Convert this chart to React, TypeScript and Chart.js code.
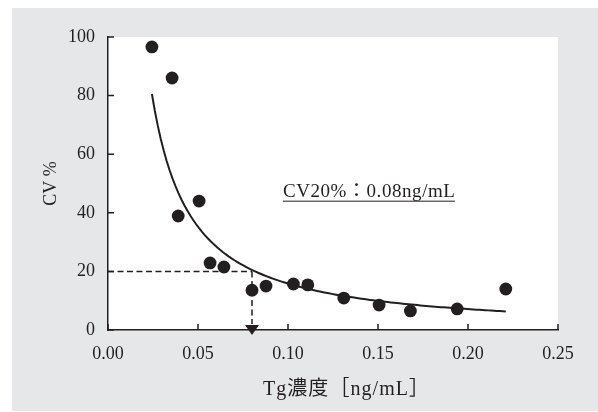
import { useEffect, useRef } from "react";
import { Chart, registerables } from "chart.js";

Chart.register(...registerables);

// ---- data ----
const concentration = [0.0244, 0.0356, 0.039, 0.0506, 0.0567, 0.0644, 0.08, 0.0878, 0.103, 0.111, 0.131, 0.1506, 0.168, 0.194, 0.221];
const cvPercent = [96.6, 86, 38.9, 44, 22.9, 21.5, 13.6, 15, 15.7, 15.4, 10.9, 8.5, 6.5, 7.2, 14];
const xTickValues = [0, 0.05, 0.1, 0.15, 0.2, 0.25];
const yTickValues = [0, 20, 40, 60, 80, 100];
const cutoffCV = 20;
const cutoffConc = 0.08;
const annotationText = "CV20%：0.08ng/mL";
const xTitle = "Tg濃度［ng/mL］";
const yTitle = "CV %";

const INK = "#231f20";
const SERIF = '"Liberation Serif", "Noto Sans CJK JP", serif';

// power-law trendline (least squares in log-log space, like a spreadsheet power fit)
function powerFit(xs: number[], ys: number[]) {
  const lx = xs.map(Math.log);
  const ly = ys.map(Math.log);
  const n = xs.length;
  const mx = lx.reduce((a, b) => a + b, 0) / n;
  const my = ly.reduce((a, b) => a + b, 0) / n;
  let sxy = 0;
  let sxx = 0;
  for (let i = 0; i < n; i++) {
    sxy += (lx[i] - mx) * (ly[i] - my);
    sxx += (lx[i] - mx) * (lx[i] - mx);
  }
  const b = sxy / sxx;
  const a = Math.exp(my - b * mx);
  return { a, b };
}

function trendPoints() {
  const { a, b } = powerFit(concentration, cvPercent);
  const x0 = Math.min(...concentration);
  const x1 = Math.max(...concentration);
  const pts: { x: number; y: number }[] = [];
  const steps = 120;
  for (let i = 0; i <= steps; i++) {
    const x = x0 + ((x1 - x0) * i) / steps;
    pts.push({ x, y: a * Math.pow(x, b) });
  }
  return pts;
}

function spacedText(ctx: CanvasRenderingContext2D, text: string, x: number, y: number, target: number) {
  (ctx as any).letterSpacing = "0px";
  const natural = ctx.measureText(text).width;
  const chars = Array.from(text).length;
  const spacing = Math.max(0, Math.min(1.2, (target - natural) / (chars - 1)));
  (ctx as any).letterSpacing = spacing.toFixed(2) + "px";
  ctx.fillText(text, x, y);
  const w = ctx.measureText(text).width - spacing;
  (ctx as any).letterSpacing = "0px";
  return w;
}

const decorPlugin = {
  id: "decor",
  beforeDraw(chart: any) {
    const { ctx, chartArea } = chart;
    ctx.save();
    ctx.fillStyle = "#ffffff";
    ctx.fillRect(chartArea.left, chartArea.top, chartArea.right - chartArea.left, chartArea.bottom - chartArea.top);
    ctx.restore();
  },
  beforeDatasetsDraw(chart: any) {
    const { ctx, chartArea, scales } = chart;
    const xs = scales.x;
    const ys = scales.y;
    const px = xs.getPixelForValue(cutoffConc);
    const py = ys.getPixelForValue(cutoffCV);
    ctx.save();
    ctx.strokeStyle = INK;
    ctx.lineWidth = 1.5;
    ctx.setLineDash([6, 3.5]);
    ctx.beginPath();
    ctx.moveTo(xs.getPixelForValue(0), py);
    ctx.lineTo(px, py);
    ctx.moveTo(px, py);
    ctx.lineTo(px, chartArea.bottom - 6);
    ctx.stroke();
    ctx.setLineDash([]);
    // arrow head
    ctx.fillStyle = INK;
    ctx.beginPath();
    ctx.moveTo(px - 7, chartArea.bottom - 5);
    ctx.lineTo(px + 7, chartArea.bottom - 5);
    ctx.lineTo(px, chartArea.bottom + 5);
    ctx.closePath();
    ctx.fill();
    ctx.restore();
  },
  afterDraw(chart: any) {
    const { ctx, chartArea, scales } = chart;
    const xs = scales.x;
    const ys = scales.y;
    ctx.save();
    ctx.strokeStyle = INK;
    ctx.lineWidth = 1.5;
    ctx.beginPath();
    // inward tick marks
    for (const v of yTickValues) {
      const y = ys.getPixelForValue(v);
      ctx.moveTo(chartArea.left, y);
      ctx.lineTo(chartArea.left + 6, y);
    }
    for (const v of xTickValues) {
      const x = xs.getPixelForValue(v);
      ctx.moveTo(x, chartArea.bottom);
      ctx.lineTo(x, chartArea.bottom - 6);
    }
    ctx.stroke();

    // annotation with underline
    ctx.fillStyle = INK;
    ctx.font = "19px " + SERIF;
    ctx.textBaseline = "alphabetic";
    ctx.textAlign = "left";
    const tx = xs.getPixelForValue(0.0972);
    const ty = ys.getPixelForValue(45.5);
    const w = spacedText(ctx, annotationText, tx, ty, 172);
    ctx.lineWidth = 1;
    ctx.beginPath();
    ctx.moveTo(tx, ty + 4.5);
    ctx.lineTo(tx + w, ty + 4.5);
    ctx.stroke();

    // x-axis title
    ctx.font = "20px " + SERIF;
    ctx.textBaseline = "middle";
    spacedText(ctx, xTitle, xs.left + 155, xs.bottom - 21, 166);
    ctx.restore();
  },
};

export default function App() {
  const ref = useRef<HTMLCanvasElement | null>(null);

  useEffect(() => {
    if (!ref.current) return;
    const chart = new Chart(ref.current, {
      type: "scatter",
      data: {
        datasets: [
          {
            label: "CV",
            data: concentration.map((x, i) => ({ x, y: cvPercent[i] })),
            backgroundColor: INK,
            borderColor: INK,
            borderWidth: 0,
            pointRadius: 6.4,
            pointHoverRadius: 6.4,
          },
          {
            label: "trend",
            data: trendPoints(),
            showLine: true,
            borderColor: INK,
            borderWidth: 2,
            pointRadius: 0,
            pointHoverRadius: 0,
            fill: false,
          } as any,
        ],
      },
      options: {
        animation: false,
        responsive: false,
        events: [],
        layout: { padding: { left: 0, right: 40, top: 29, bottom: 0 } },
        plugins: {
          legend: { display: false },
          tooltip: { enabled: false },
        },
        scales: {
          x: {
            type: "linear",
            min: 0,
            max: 0.25,
            afterFit: (s: any) => {
              s.height = 81;
            },
            afterBuildTicks: (s: any) => {
              s.ticks = xTickValues.map((v) => ({ value: v }));
            },
            grid: { display: false, drawTicks: false },
            border: { display: true, color: INK, width: 1.5 },
            ticks: {
              color: INK,
              padding: 13,
              maxRotation: 0,
              font: { family: SERIF, size: 18 },
              callback: (v: any) => Number(v).toFixed(2),
            },
            title: { display: false },
          },
          y: {
            type: "linear",
            min: 0,
            max: 100,
            afterFit: (s: any) => {
              s.width = 96;
            },
            afterBuildTicks: (s: any) => {
              s.ticks = yTickValues.map((v) => ({ value: v }));
            },
            grid: { display: false, drawTicks: false },
            border: { display: true, color: INK, width: 1.5 },
            ticks: {
              color: INK,
              padding: 13,
              font: { family: SERIF, size: 18 },
              callback: (v: any) => String(v),
            },
            title: {
              display: true,
              text: yTitle,
              color: INK,
              font: { family: SERIF, size: 18 },
              padding: { top: 28, bottom: 0 },
            },
          },
        },
      },
      plugins: [decorPlugin],
    });
    return () => chart.destroy();
  }, []);

  return (
    <div
      style={{
        position: "absolute",
        left: 12,
        top: 8,
        width: 586,
        height: 403,
        background: "#e6e7e8",
      }}
    >
      <canvas ref={ref} width={586} height={403} style={{ display: "block" }} />
    </div>
  );
}
